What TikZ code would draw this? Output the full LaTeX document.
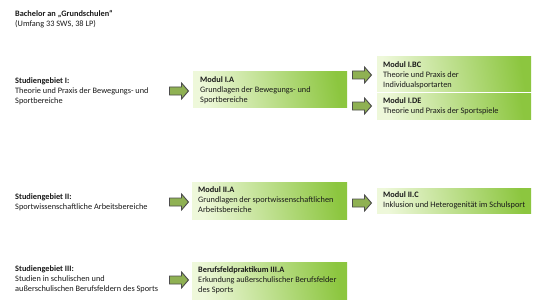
\documentclass[tikz,border=0pt]{standalone}
\usepackage{fontspec}
\setmainfont{Carlito}
\definecolor{arrfill}{HTML}{8FB153}
\definecolor{arrline}{HTML}{4D4D4D}
\definecolor{gleft}{HTML}{EEF8DA}
\definecolor{gright}{HTML}{8CC63F}
\definecolor{txt}{HTML}{1A1A1A}
\tikzset{
  every node/.style={font=\fontsize{8.3}{10}\selectfont, text=txt},
  modfill/.style={left color=gleft, right color=gright, shading angle=100},
  lbl/.style={anchor=north west, align=left, inner sep=0pt},
  barrow/.pic={\draw[draw=arrline, line width=0.9pt, fill=arrfill, line join=miter]
     (-9.5,-4) -- (2.5,-4) -- (2.5,-8) -- (9.5,0) -- (2.5,8) -- (2.5,4) -- (-9.5,4) -- cycle;}
}
\begin{document}
\begin{tikzpicture}[x=1pt,y=-1pt]
\useasboundingbox[fill=white] (0,0) rectangle (541,305);
% title
\node[lbl] (title) at (15,10) {\textbf{Bachelor an „Grundschulen“}\\(Umfang 33 SWS, 38 LP)};
% left labels
\node[lbl] (sg1) at (15,77) {\textbf{Studiengebiet I:}\\Theorie und Praxis der Bewegungs- und\\Sportbereiche};
\node[lbl] (sg2) at (15,193) {\textbf{Studiengebiet II:}\\Sportwissenschaftliche Arbeitsbereiche};
\node[lbl] (sg3) at (15,265) {\textbf{Studiengebiet III:}\\Studien in schulischen und\\außerschulischen Berufsfeldern des Sports};
% module boxes
\fill[modfill] (193,72) rectangle (347,107);
\node[lbl] (ia) at (200,76) {\textbf{Modul I.A}\\Grundlagen der Bewegungs- und\\Sportbereiche};
\fill[modfill] (377,57) rectangle (531,92);
\node[lbl] (ibc) at (383,61) {\textbf{Modul I.BC}\\Theorie und Praxis der\\Individualsportarten};
\fill[modfill] (377,94) rectangle (531,119);
\node[lbl] (ide) at (383,97) {\textbf{Modul I.DE}\\Theorie und Praxis der Sportspiele};
\fill[modfill] (192,182) rectangle (347,219);
\node[lbl] (iia) at (198,186) {\textbf{Modul II.A}\\Grundlagen der sportwissenschaftlichen\\Arbeitsbereiche};
\fill[modfill] (377,188) rectangle (531,213);
\node[lbl] (iic) at (383,191) {\textbf{Modul II.C}\\Inklusion und Heterogenität im Schulsport};
\fill[modfill] (192,262) rectangle (347,299);
\node[lbl] (iiia) at (198,266) {\textbf{Berufsfeldpraktikum III.A}\\Erkundung außerschulischer Berufsfelder\\des Sports};
% block arrows
\pic at (179,91) {barrow};
\pic at (362,75) {barrow};
\pic at (362,106) {barrow};
\pic at (179,202) {barrow};
\pic at (362,203) {barrow};
\pic at (179,280) {barrow};
\end{tikzpicture}
\end{document}
